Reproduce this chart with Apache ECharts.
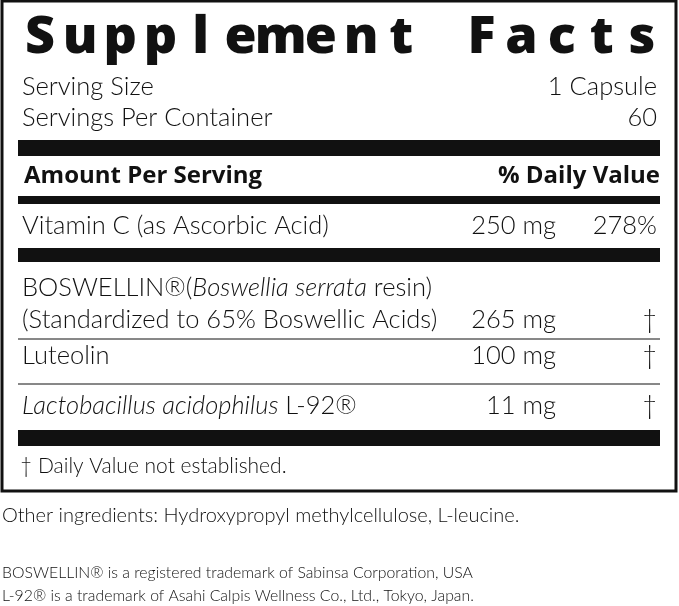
<!DOCTYPE html>
<html>
<head>
<meta charset="utf-8">
<script src="https://cdn.jsdelivr.net/npm/echarts@6/dist/echarts.min.js"></script>
<style>html,body{margin:0;padding:0;background:#fff}#c{width:679px;height:606px}</style>
</head>
<body>
<div id="c"></div>
<script>
const title = 'Supplement Facts'
const servingLabels = ['Serving Size', 'Servings Per Container']
const servingValues = ['1 Capsule', '60']
const ingredients = [
  '{n|Vitamin C (as Ascorbic Acid)}',
  '{n|BOSWELLIN®(}{i|Boswellia serrata}{n| resin)}\n{n|(Standardized to 65% Boswellic Acids)}',
  '{n|Luteolin}',
  '{i|Lactobacillus acidophilus}{n| L-92®}'
]
const amounts = ['250 mg', '265 mg', '100 mg', '11 mg']
const dailyValues = ['278%', '†', '†', '†']
const footnotes = [
  'Other ingredients: Hydroxypropyl methylcellulose, L-leucine.',
  'BOSWELLIN® is a registered trademark of Sabinsa Corporation, USA',
  'L-92® is a trademark of Asahi Calpis Wellness Co., Ltd., Tokyo, Japan.'
]

const F = 'Lato, "Open Sans", sans-serif'
const B = '"Open Sans", Lato, sans-serif'
const rich = {
  n: {font: '300 25.5px ' + F, fill: '#111', lineHeight: 32},
  i: {font: 'italic 300 25.5px ' + F, fill: '#111', lineHeight: 32}
}
const g = []
const txt = (x, y, t, font, align, extra) => g.push({type: 'text', x: x, y: y,
  style: Object.assign({text: t, font: font, fill: '#111', align: align || 'left', verticalAlign: 'middle'}, extra || {})})
const bar = (y, h) => g.push({type: 'rect', shape: {x: 18, y: y, width: 642, height: h}, style: {fill: '#111'}})

// frame
g.push({type: 'rect', shape: {x: 2, y: 1, width: 674, height: 490}, style: {fill: 'none', stroke: '#111', lineWidth: 3}})

// letter-spaced title
const step = (662 - 20) / title.length
title.split('').forEach((ch, k) => txt(20 + step * (k + 0.5), 38, ch, '800 52px ' + B, 'center'))

servingLabels.forEach((s, k) => {
  txt(22, 87 + k * 31, s, '300 25.5px ' + F)
  txt(657, 87 + k * 31, servingValues[k], '300 25.5px ' + F, 'right')
})
bar(140, 16)
txt(24, 176, 'Amount Per Serving', 'bold 24px ' + B)
txt(660, 176, '% Daily Value', 'bold 24px ' + B, 'right')
bar(196, 8)

const rowY = [226, 304, 356, 406]
ingredients.forEach((s, k) => {
  const yy = k === 1 ? 320 : rowY[k]
  txt(22, rowY[k], s, '300 25.5px ' + F, 'left', {rich: rich})
  txt(556, yy, amounts[k], '300 25.5px ' + F, 'right')
  txt(657, yy, dailyValues[k], '300 25.5px ' + F, 'right')
})
bar(248, 14)
g.push({type: 'line', shape: {x1: 18, y1: 339, x2: 660, y2: 339}, style: {stroke: '#111', lineWidth: 1}})
g.push({type: 'line', shape: {x1: 18, y1: 384, x2: 660, y2: 384}, style: {stroke: '#111', lineWidth: 1}})
bar(430, 16)
txt(20, 466, '† Daily Value not established.', '300 21px ' + F)

txt(2, 516, footnotes[0], '300 20px ' + F)
txt(2, 573, footnotes[1], '300 15.8px ' + F)
txt(2, 596, footnotes[2], '300 15.8px ' + F)

const chart = echarts.init(document.getElementById('c'))
chart.setOption({graphic: g})
</script>
</body>
</html>
